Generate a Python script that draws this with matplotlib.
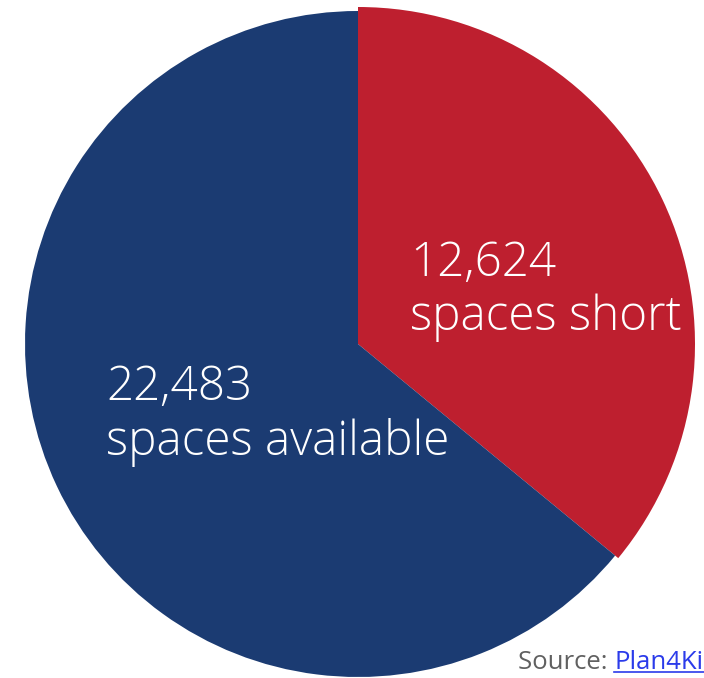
import matplotlib.pyplot as plt
from matplotlib.lines import Line2D

labels = ["spaces short", "spaces available"]
values = [12624, 22483]
colors = ["#BE1F2F", "#1B3B72"]
source_prefix = "Source: "
source_link = "Plan4Kids"

W, H = 704, 678
fig = plt.figure(figsize=(W / 100, H / 100), dpi=100)
ax = fig.add_axes([0, 0, 1, 1])

cx, cy = 358, H - 344
radius = 333

wedges, _ = ax.pie(
    values,
    colors=colors,
    startangle=90,
    counterclock=False,
    center=(cx, cy),
    radius=radius,
    frame=True,
)
# red slice sits a touch proud of the blue one in the original
wedges[0].set_radius(radius + 4)
for w in wedges:
    w.set_linewidth(0)

ax.set_xlim(0, W)
ax.set_ylim(0, H)
ax.set_aspect("equal")
ax.axis("off")

# va="baseline" on two-line text pins the last line
font = dict(family="Open Sans", fontweight="light", color="white", fontsize=34.3)
ax.text(410, H - 330, f"{values[0]:,}\n{labels[0]}", va="baseline", ha="left",
        linespacing=1.16, **font)
ax.text(106, H - 455, f"{values[1]:,}\n{labels[1]}", va="baseline", ha="left",
        linespacing=1.16, **font)

# source line with a link-style underline
t1 = fig.text(518 / W, 1 - 669 / H, source_prefix, family="Open Sans",
              fontsize=18.5, color="#606060", va="baseline", ha="left")
fig.canvas.draw()
bb = t1.get_window_extent()
t2 = fig.text(bb.x1 / W, 1 - 669 / H, source_link, family="Open Sans",
              fontsize=18.5, color="#2B3BEA", va="baseline", ha="left")
fig.canvas.draw()
bb2 = t2.get_window_extent()
uy = (H - 672) / H
fig.add_artist(Line2D([bb2.x0 / W, bb2.x1 / W], [uy, uy], color="#2B3BEA",
                      lw=1.2, transform=fig.transFigure))

fig.savefig("out.png", dpi=100)
